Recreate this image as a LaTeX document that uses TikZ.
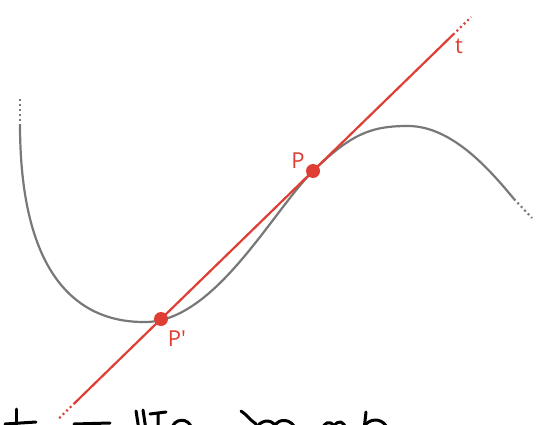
\documentclass[tikz,border=0pt]{standalone}
\usepackage{fontspec}
\setmainfont{Open Sans}
\usetikzlibrary{calc}
\definecolor{tred}{RGB}{222,62,52}
\definecolor{cgray}{RGB}{120,120,120}
\tikzset{
  curvestyle/.style={draw=cgray,line width=2.2pt},
  dotsstyle/.style={line width=2.2pt,dash pattern=on 2pt off 3pt},
  tanline/.style={draw=tred,line width=2.2pt},
  ptdot/.style={circle,fill=tred,inner sep=0pt,minimum size=14pt},
  lbl/.style={text=tred,font=\fontsize{22}{25}\selectfont,inner sep=0pt},
  hand/.style={draw=black,line width=3pt,line cap=round,line join=round}
}
\begin{document}
\begin{tikzpicture}[x=1pt,y=-1pt]
\useasboundingbox (0,0) rectangle (540,425);
\clip (0,0) rectangle (540,425);
\fill[white] (0,0) rectangle (540,425);
\coordinate (P) at (313,171);
\coordinate (Pp) at (161,319);
% curve
\coordinate (c0) at (20,99);
\coordinate (c1) at (20,124);
\coordinate (c2) at (146,322);
\coordinate (c3) at (408,126);
\coordinate (c4) at (514,199);
\coordinate (c5) at (532,218);
\draw[cgray,dotsstyle] (c0) -- (c1);
\draw[curvestyle] (c1) .. controls (20,285) and (85,323) .. (c2)
  .. controls (215,321) and (272,212) .. (P)
  .. controls (352,133) and (372,126) .. (c3)
  .. controls (452,126) and (490,170) .. (c4);
\draw[cgray,dotsstyle] (c4) -- (c5);
% tangent / secant line
\coordinate (l0) at ($(Pp)!-0.67!(P)$);
\coordinate (l1) at ($(Pp)!-0.572!(P)$);
\coordinate (l2) at ($(Pp)!1.921!(P)$);
\coordinate (l3) at ($(Pp)!2.04!(P)$);
\draw[tred,dotsstyle] (l0) -- (l1);
\draw[tanline] (l1) -- (l2);
\draw[tred,dotsstyle] (l2) -- (l3);
\node[ptdot] (dP) at (P) {};
\node[ptdot] (dPp) at (Pp) {};
\node[lbl] (lP) at (298,161) {P};
\node[lbl] (lPp) at (177,339) {P\textquotesingle};
\node[lbl] (lt) at (459,46) {t};
% handwriting (cut off at bottom)
\draw[hand] (16,409) -- (16,430);
\draw[hand] (5,424) -- (36,422);
\draw[hand] (74,424) -- (110,423);
\draw[hand] (136,411) -- (139,430);
\draw[hand] (143,410) -- (146,430);
\draw[hand] (150,414) -- (166,412) (158,413) -- (158,430);
\draw[hand] (172,430) .. controls (172,418) and (190,416) .. (192,430);
\draw[hand] (241,411) .. controls (246,414) and (250,420) .. (256,424);
\draw[hand] (256,430) .. controls (258,420) and (272,418) .. (275,426)
  .. controls (278,418) and (292,418) .. (296,430);
\draw[hand] (322,430) .. controls (324,422) and (330,420) .. (334,426)
  .. controls (338,420) and (344,420) .. (346,430);
\draw[hand] (366,412) -- (364,430);
\draw[hand] (366,424) .. controls (372,418) and (384,418) .. (388,430);
\end{tikzpicture}
\end{document}
